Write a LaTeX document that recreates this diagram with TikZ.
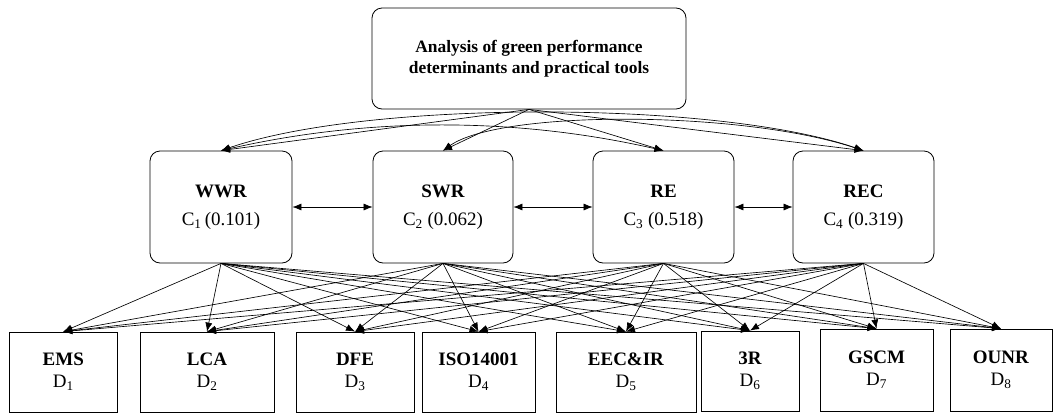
\documentclass[tikz,border=0pt]{standalone}
\usepackage{fontspec}
\setmainfont{Liberation Serif}
\usetikzlibrary{arrows.meta}
\begin{document}
\begin{tikzpicture}[x=1pt,y=-1pt,
  boxline/.style={draw=black,line width=0.8pt,inner sep=0pt,align=center},
  goalbox/.style={boxline,rounded corners=10pt,minimum width=314pt,minimum height=101pt,font=\fontsize{17.4}{20.5}\selectfont\bfseries},
  critbox/.style={boxline,rounded corners=10pt,minimum width=141pt,minimum height=112pt,font=\fontsize{19}{28}\selectfont},
  toolbox/.style={boxline,minimum height=80pt,font=\fontsize{19}{22}\selectfont},
  arr/.style={line width=0.65pt,-{Latex[length=9pt,width=7pt]}},
  biarr/.style={line width=0.65pt,{Latex[length=9pt,width=7pt]}-{Latex[length=9pt,width=7pt]}}
]
\useasboundingbox (0,0) rectangle (1053,413);
% goal
\node[goalbox] (G) at (529,58.5) {Analysis of green performance\\determinants and practical tools};
% criteria
\node[critbox,minimum width=142pt] (C1) at (221,207) {\textbf{WWR}\\C\textsubscript{1}\,(0.101)};
\node[critbox,minimum width=140pt] (C2) at (443,207) {\textbf{SWR}\\C\textsubscript{2} (0.062)};
\node[critbox] (C3) at (663.5,207) {\textbf{RE}\\C\textsubscript{3} (0.518)};
\node[critbox] (C4) at (863.5,207) {\textbf{REC}\\C\textsubscript{4} (0.319)};
% tools
\node[toolbox,minimum width=107.5pt] (D1) at (63.25,372) {\textbf{EMS}\\D\textsubscript{1}};
\node[toolbox,minimum width=134pt] (D2) at (207,372) {\textbf{LCA}\\D\textsubscript{2}};
\node[toolbox,minimum width=118pt] (D3) at (355,372) {\textbf{DFE}\\D\textsubscript{3}};
\node[toolbox,minimum width=113pt] (D4) at (478.5,372) {\textbf{ISO14001}\\D\textsubscript{4}};
\node[toolbox,minimum width=140pt] (D5) at (626,372) {\textbf{EEC\&IR}\\D\textsubscript{5}};
\node[toolbox,minimum width=98pt] (D6) at (750,371) {\textbf{3R}\\D\textsubscript{6}};
\node[toolbox,minimum width=113pt,minimum height=82pt] (D7) at (876.5,370) {\textbf{GSCM}\\D\textsubscript{7}};
\node[toolbox,minimum width=102pt,minimum height=82pt] (D8) at (1001,370) {\textbf{OUNR}\\D\textsubscript{8}};
% goal to criteria
\foreach \c in {C1,C2,C3,C4} \draw[arr] (G.south) -- (\c.north);
% interdependence curves over the top
\draw[biarr] (C1.north) .. controls (368,117) and (516,117) .. (C3.north);
\draw[biarr] (C2.north) .. controls (500,110) and (740,110) .. (C4.north);
\draw[biarr] (C1.north) .. controls (368,100) and (716,100) .. (C4.north);
% neighbours
\draw[biarr] (C1.east) -- (C2.west);
\draw[biarr] (C2.east) -- (C3.west);
\draw[biarr] (C3.east) -- (C4.west);
% criteria to tools
\foreach \c in {C1,C2,C3,C4}
  \foreach \d in {D1,D2,D3,D4,D5,D6,D7,D8}
    \draw[arr] (\c.south) -- (\d.north);
\end{tikzpicture}
\end{document}
